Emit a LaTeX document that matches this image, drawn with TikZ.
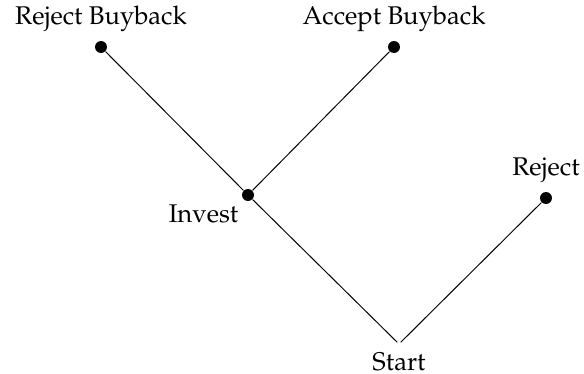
\documentclass[tikz,border=0pt]{standalone}
\usepackage[T1]{fontenc}
\usepackage{mathpazo}
\begin{document}
\begin{tikzpicture}[x=0.41pt, y=-0.41pt, font={\fontsize{10.5pt}{12.5pt}\selectfont}, dot/.style={circle, fill, inner sep=0pt, minimum size=4.9pt}]
        \useasboundingbox (0,0) rectangle (584,374);
        \node[inner sep=0pt, label={[label distance=-0.5pt]below:Start}] (start) at (399,344) {};
        \node[dot, label={[label distance=-2pt]below left:Invest}] (invest) at (248,195) {};
        \node[dot, label=above:Reject Buyback] (rejectbuyback) at (101,47) {};
        \node[dot, label=above:Accept Buyback] (acceptbuyback) at (394,47) {};
        \node[dot, label=above:Reject] (reject) at (546,198) {};
        
        \draw (start) -- (invest) -- (rejectbuyback);
        \draw (invest) -- (acceptbuyback);
        \draw (start) -- (reject);
        
    \end{tikzpicture}
\end{document}
